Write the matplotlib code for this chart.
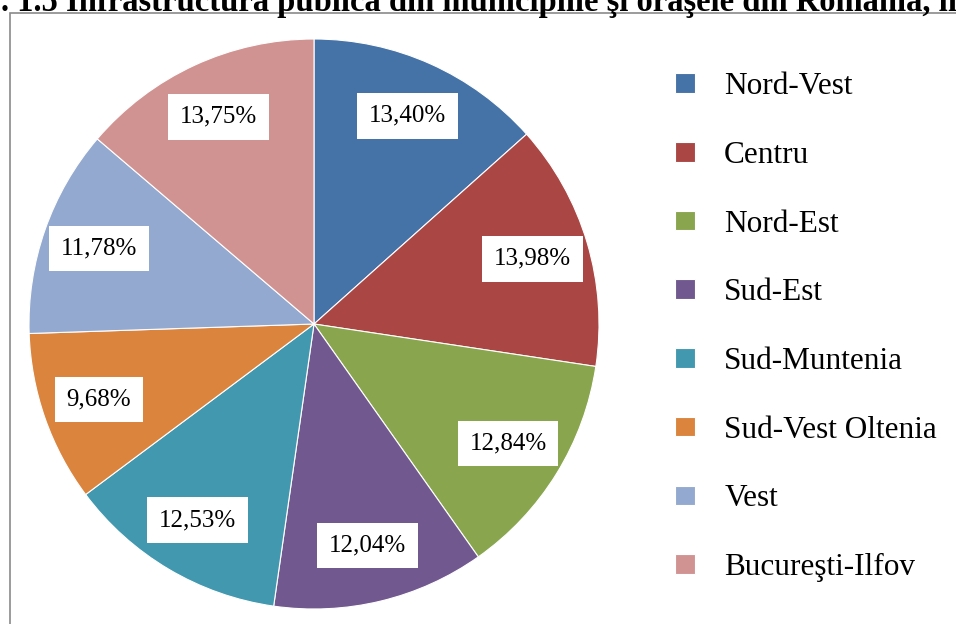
import matplotlib.pyplot as plt
from matplotlib.patches import Rectangle

regions = ["Nord-Vest", "Centru", "Nord-Est", "Sud-Est", "Sud-Muntenia",
           "Sud-Vest Oltenia", "Vest", "Bucureşti-Ilfov"]
shares = [13.40, 13.98, 12.84, 12.04, 12.53, 9.68, 11.78, 13.75]
colors = ["#4572A7", "#AA4643", "#89A54E", "#71588F", "#4198AF",
          "#DB843D", "#93A9CF", "#D19392"]
title = ". 1.5 Infrastructura publică din municipiile şi oraşele din România, în"

plt.rcParams['font.family'] = ['Liberation Serif', 'DejaVu Serif']

W, H = 956, 624
fig = plt.figure(figsize=(W / 100, H / 100), dpi=100)

# chart frame (only left and top edges are visible)
fig.add_artist(Rectangle((10 / W, -0.1), 1.2, (H - 13) / H + 0.1,
                         transform=fig.transFigure, fill=False,
                         edgecolor="#8a8a8a", linewidth=1.2))

# title sits partly above the page edge, as in the source
fig.text(1 / W, 1 - 11 / H, title, fontsize=23.5, fontweight="bold",
         ha="left", va="baseline")

cx, cy, r = 314, 324, 285
ax = fig.add_axes([(cx - r) / W, (H - cy - r) / H, 2 * r / W, 2 * r / H])
wedges, texts = ax.pie(shares, colors=colors, startangle=90, counterclock=False,
                       labels=[("%.2f%%" % v).replace(".", ",") for v in shares],
                       labeldistance=0.8,
                       wedgeprops=dict(edgecolor="white", linewidth=0.8))
for t in texts:
    t.set_ha("center")
    t.set_va("center")
    t.set_fontsize(18)
    t.set_bbox(dict(facecolor="white", edgecolor="none", pad=8.5))
ax.set_xlim(-1, 1)
ax.set_ylim(-1, 1)
ax.set_aspect("equal")

fs = 22.5
fig.legend(wedges, regions, loc="upper left",
           bbox_to_anchor=(647 / W, 1 - 44 / H), frameon=False,
           fontsize=fs, handlelength=0.62, handleheight=0.58,
           handletextpad=0.95, labelspacing=1.27, borderpad=0.4)

fig.savefig("out.png", dpi=100)
